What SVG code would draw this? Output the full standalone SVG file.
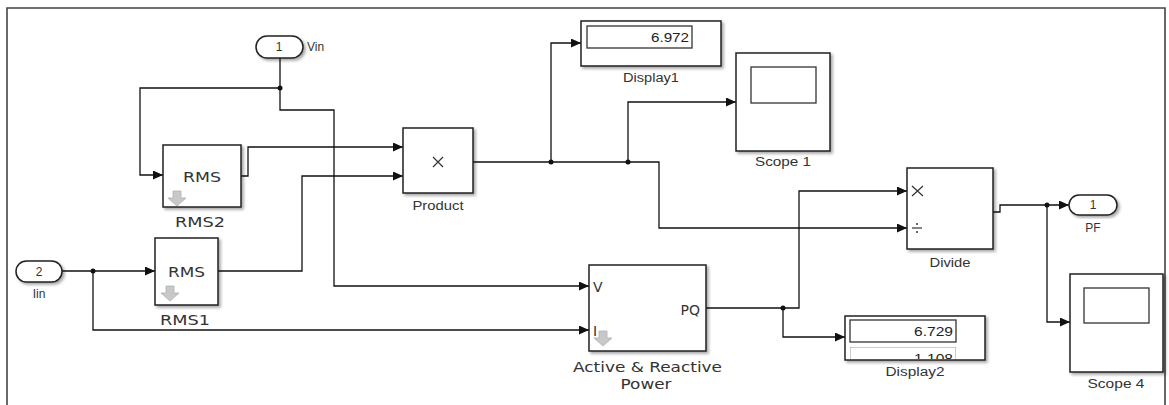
<svg xmlns="http://www.w3.org/2000/svg" width="1169" height="405" viewBox="0 0 1169 405">
<defs>
<filter id="sh" x="-10%" y="-10%" width="130%" height="130%">
<feDropShadow dx="2" dy="2" stdDeviation="1.4" flood-color="#000" flood-opacity="0.35"/>
</filter>
<marker id="ar" markerUnits="userSpaceOnUse" markerWidth="10" markerHeight="9" refX="10" refY="4.5" orient="auto">
<path d="M0,0 L10,4.5 L0,9 z" fill="#111"/>
</marker>
<clipPath id="d2clip"><rect x="850" y="347" width="106" height="12"/></clipPath>
<path id="dn" d="M-4,-7 H4 V0 H9 L0,8 L-9,0 H-4 z"/>
</defs>
<style>
.blk{fill:#fff;stroke:#222;stroke-width:1.5;filter:url(#sh)}
.in{fill:#fff;stroke:#333;stroke-width:1.3}
.ln{fill:none;stroke:#111;stroke-width:1.3}
.arw{marker-end:url(#ar)}
.lbl{font-family:"Liberation Sans",Arial,sans-serif;font-size:12px;fill:#333;text-anchor:middle}
.tl{font-family:"DejaVu Sans",Verdana,sans-serif;font-size:14px;fill:#333;text-anchor:middle}
.num{font-family:"Liberation Sans",Arial,sans-serif;font-size:12px;fill:#222;text-anchor:end}
.ico{fill:#c8c8c8;stroke:#b0b0b0;stroke-width:0.8}
.op{stroke:#333;stroke-width:1.2;fill:none}
.dot{fill:#111}
</style>
<rect width="1169" height="405" fill="#fff"/>
<path d="M7,405 V8 H1165 V405" fill="none" stroke="#444" stroke-width="1.6"/>

<g id="connectors">
<path class="ln arw" d="M280,58 V88 H140 V175 H163"/>
<path class="ln arw" d="M280,88 V110 H334 V286 H589"/>
<path class="ln arw" d="M241,176 H248 V147 H403"/>
<path class="ln arw" d="M62,271 H155"/>
<path class="ln arw" d="M93,271 V330 H589"/>
<path class="ln arw" d="M218,271 H302 V176 H403"/>
<path class="ln arw" d="M473,162 H659 V228 H907"/>
<path class="ln arw" d="M551,162 V43 H581"/>
<path class="ln arw" d="M628,162 V102 H736"/>
<path class="ln arw" d="M706,308 H799 V191 H907"/>
<path class="ln arw" d="M783,308 V337 H845"/>
<path class="ln arw" d="M993,212 H1000 V205 H1069"/>
<path class="ln arw" d="M1047,205 V322 H1070"/>
<circle class="dot" cx="280" cy="88" r="2.5"/>
<circle class="dot" cx="93" cy="271" r="2.5"/>
<circle class="dot" cx="551" cy="162" r="2.5"/>
<circle class="dot" cx="628" cy="162" r="2.5"/>
<circle class="dot" cx="783" cy="308" r="2.5"/>
<circle class="dot" cx="1047" cy="205" r="2.5"/>
</g>

<g id="Vin">
<rect class="blk" x="256" y="36" width="47" height="22" rx="11"/>
<text x="279" y="51" class="lbl" font-size="12">1</text>
<text x="307" y="51" class="lbl" style="text-anchor:start">Vin</text>
</g>

<g id="Iin">
<rect class="blk" x="16" y="261" width="46" height="21" rx="10.5"/>
<text x="39" y="276" class="lbl" font-size="13">2</text>
<text x="39" y="298" class="lbl">Iin</text>
</g>

<g id="RMS2">
<rect class="blk" x="163" y="145" width="78" height="62"/>
<text x="202" y="182" class="tl" font-size="15" textLength="38" lengthAdjust="spacingAndGlyphs">RMS</text>
<use href="#dn" x="177" y="198" class="ico"/>
<text x="200" y="227" class="tl" textLength="50" lengthAdjust="spacingAndGlyphs">RMS2</text>
</g>

<g id="RMS1">
<rect class="blk" x="155" y="238" width="63" height="67"/>
<text x="186.5" y="277" class="tl" font-size="15" textLength="37" lengthAdjust="spacingAndGlyphs">RMS</text>
<use href="#dn" x="170" y="293" class="ico"/>
<text x="185" y="325" class="tl" textLength="50" lengthAdjust="spacingAndGlyphs">RMS1</text>
</g>

<g id="Product">
<rect class="blk" x="403" y="128" width="70" height="65"/>
<path class="op" d="M433,157 L443,167 M443,157 L433,167"/>
<text x="438" y="210" class="lbl" textLength="51" lengthAdjust="spacingAndGlyphs">Product</text>
</g>

<g id="Display1">
<rect class="blk" x="581" y="21" width="140" height="45"/>
<rect class="in" x="587" y="26" width="105" height="22"/>
<text x="689" y="42" class="num" textLength="38" lengthAdjust="spacingAndGlyphs">6.972</text>
<text x="651" y="82" class="lbl" textLength="56" lengthAdjust="spacingAndGlyphs">Display1</text>
</g>

<g id="Scope1">
<rect class="blk" x="736" y="53" width="94" height="98"/>
<rect class="in" x="751" y="67" width="65" height="36"/>
<text x="783" y="166" class="lbl" textLength="56" lengthAdjust="spacingAndGlyphs">Scope 1</text>
</g>

<g id="ActivePower">
<rect class="blk" x="589" y="265" width="117" height="86"/>
<text x="593" y="292" class="tl" style="text-anchor:start" font-size="14">V</text>
<text x="700" y="315" class="tl" style="text-anchor:end" font-size="14">PQ</text>
<use href="#dn" x="603" y="338" class="ico"/>
<text x="593" y="336" class="tl" style="text-anchor:start" font-size="14">I</text>
<text x="647.5" y="372" class="tl" font-size="15" textLength="149" lengthAdjust="spacingAndGlyphs">Active &amp; Reactive</text>
<text x="646" y="389" class="tl" font-size="15" textLength="51" lengthAdjust="spacingAndGlyphs">Power</text>
</g>

<g id="Display2">
<rect class="blk" x="845" y="316" width="140" height="44"/>
<rect class="in" x="850" y="320" width="106" height="22"/>
<text x="953" y="336" class="num" textLength="39" lengthAdjust="spacingAndGlyphs" fill="#2b3f5c">6.729</text>
<g clip-path="url(#d2clip)">
<rect x="850" y="347" width="106" height="16" fill="#fff" stroke="#999" stroke-width="1"/>
<text x="953" y="363" class="num" fill="#aaa" textLength="39" lengthAdjust="spacingAndGlyphs">1.108</text>
</g>
<text x="915" y="376" class="lbl" textLength="59" lengthAdjust="spacingAndGlyphs">Display2</text>
</g>

<g id="Divide">
<rect class="blk" x="907" y="168" width="86" height="81"/>
<path class="op" d="M912,186 L923,196 M923,186 L912,196"/>
<path class="op" d="M912,228 H922"/>
<circle cx="917" cy="224" r="1" fill="#333"/>
<circle cx="917" cy="232" r="1" fill="#333"/>
<text x="950" y="267" class="lbl" textLength="41" lengthAdjust="spacingAndGlyphs">Divide</text>
</g>

<g id="PF">
<rect class="blk" x="1069" y="195" width="48" height="20" rx="10"/>
<text x="1093" y="209" class="lbl">1</text>
<text x="1093" y="232" class="lbl">PF</text>
</g>

<g id="Scope4">
<rect class="blk" x="1070" y="274" width="93" height="98"/>
<rect class="in" x="1084" y="288" width="65" height="35"/>
<text x="1116" y="388" class="lbl" textLength="57" lengthAdjust="spacingAndGlyphs">Scope 4</text>
</g>
</svg>
